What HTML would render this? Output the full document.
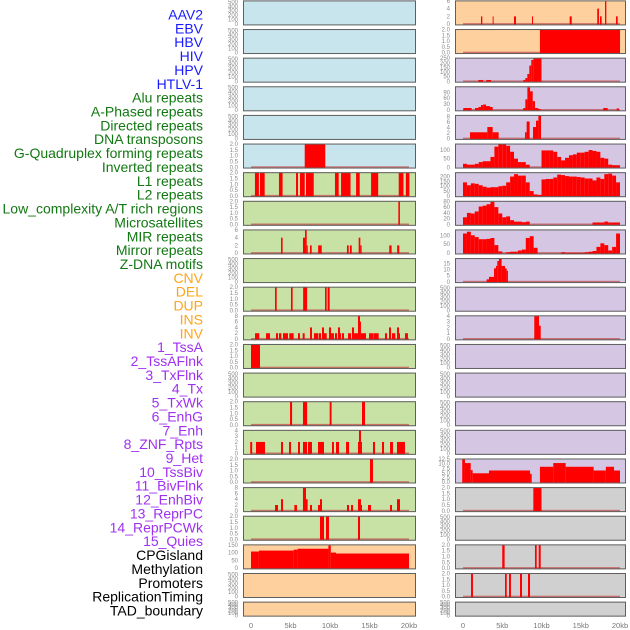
<!DOCTYPE html>
<html><head><meta charset="utf-8">
<style>
html,body{margin:0;padding:0;background:#fff;}
svg{display:block;font-family:"Liberation Sans",sans-serif;}
</style></head>
<body>
<svg id="chart" width="630" height="630" viewBox="0 0 630 630" xmlns="http://www.w3.org/2000/svg"></svg>
<script>
// ---------- data ----------
const trackLabels = ["AAV2","EBV","HBV","HIV","HPV","HTLV-1","Alu repeats","A-Phased repeats","Directed repeats","DNA transposons","G-Quadruplex forming repeats","Inverted repeats","L1 repeats","L2 repeats","Low_complexity A/T rich regions","Microsatellites","MIR repeats","Mirror repeats","Z-DNA motifs","CNV","DEL","DUP","INS","INV","1_TssA","2_TssAFlnk","3_TxFlnk","4_Tx","5_TxWk","6_EnhG","7_Enh","8_ZNF_Rpts","9_Het","10_TssBiv","11_BivFlnk","12_EnhBiv","13_ReprPC","14_ReprPCWk","15_Quies","CPGisland","Methylation","Promoters","ReplicationTiming","TAD_boundary"];
const labelGroups = ["virus","virus","virus","virus","virus","virus","rep","rep","rep","rep","rep","rep","rep","rep","rep","rep","rep","rep","rep","sv","sv","sv","sv","sv","chrom","chrom","chrom","chrom","chrom","chrom","chrom","chrom","chrom","chrom","chrom","chrom","chrom","chrom","chrom","other","other","other","other","other"];
const xTickKb = [0,5,10,15,20];
const xTickLabels = ["0","5kb","10kb","15kb","20kb"];
const emptyTicks = [0,100,200,300,400,500];
const ticks02 = [0,0.5,1.0,1.5,2.0];

// left column segments [startKb, endKb, value]
const L_gquad = [[6.8,9.4,2]];
const L_l1 = [[0.5,1.0,2],[1.14,1.73,2],[3.54,4.0,2],[5.7,5.95,2],[6.2,6.8,2],[6.96,7.94,2],[10.63,11.1,2],[11.4,12.6,2],[13.3,13.76,2],[15.2,16.1,2],[18.7,19.3,2],[19.6,20.05,2]];
const L_row7 = [[18.65,18.85,2]];
const L_row8 = [[3.8,4.0,4],[6.58,6.84,4],[6.84,7.05,6],[7.05,7.18,2],[7.47,7.68,2],[8.5,8.95,2],[12.15,12.37,2],[12.53,12.75,2],[13.63,13.84,4],[13.84,14.0,2],[17.5,17.8,2],[18.5,18.77,2]];
const L_row10 = [[3.04,3.25,2],[5.06,5.27,2],[6.6,7.1,2],[9.37,9.58,2],[9.7,9.96,2]];
const L_row11 = [[0.51,1.05,2],[1.9,2.4,2],[3.16,3.42,2],[3.54,3.84,2],[4.05,4.68,2],[4.85,5.4,2],[5.95,6.2,2],[6.54,6.79,2],[7.47,7.72,4],[7.97,8.48,2],[8.56,8.86,2],[8.99,9.24,4],[9.24,9.58,2],[9.87,10.13,4],[10.13,10.5,2],[10.63,10.89,2],[11.01,11.27,4],[11.27,11.39,2],[11.52,11.77,2],[12.28,12.66,2],[12.78,13.04,4],[13.04,13.54,2],[13.54,13.8,8],[13.8,13.92,6],[13.92,14.56,2],[14.94,15.49,2],[15.53,16.16,2],[16.96,17.22,2],[17.47,17.72,4],[17.85,18.27,2],[18.48,18.73,4],[18.73,18.86,2],[19.49,19.87,2]];
const L_row12 = [[0,1.14,2]];
const L_row14 = [[4.94,5.2,2],[6.58,7.1,2],[9.96,10.2,2],[14.05,14.43,2]];
const L_row15 = [[-0.1,0.15,2],[0.63,1.77,2],[3.8,4.05,2],[4.81,5.06,2],[5.95,6.2,2],[6.58,7.09,2],[7.22,7.72,2],[8.48,9.24,2],[10.25,10.5,2],[10.76,11.14,2],[12.03,12.41,2],[13.54,13.67,2],[13.67,13.92,4],[13.92,14.05,2],[15.44,15.7,2],[16.58,16.84,2],[17.6,17.97,2],[18.48,19.49,2]];
const L_row16 = [[15.06,15.44,2]];
const L_row17 = [[3.04,3.42,2],[3.8,4.05,4],[5.49,5.82,2],[6.58,6.96,8],[6.96,7.17,4],[7.47,7.72,2],[8.48,8.73,2],[8.73,8.99,4],[12.15,12.41,2],[12.66,12.91,2],[13.54,13.92,4],[13.92,14.05,2],[14.81,15.19,2],[17.6,17.85,2],[18.48,18.86,4]];
const L_row18 = [[8.73,9.24,2],[9.49,9.87,2],[13.54,13.8,2]];
const L_cpg = [[0,1.0,107],[1.0,5.4,113],[5.4,5.9,119],[5.9,9.8,125],[9.8,10.1,146],[10.1,10.76,100],[10.76,20.0,94]];

// right column
const R_aav2 = [[2.29,2.46,2],[3.78,3.9,2],[6.5,6.75,2],[8.79,8.92,2],[13.59,13.85,2],[17.1,17.32,4],[17.45,17.66,2],[18.09,18.26,6],[19.49,19.7,2]];
const R_ebv = [[9.8,20.0,2]];
const R_hiv = [[1.95,2.55,15],[2.97,3.57,15],[7.68,7.94,15],[7.94,8.2,35],[8.2,8.45,80],[8.45,8.7,170],[8.7,8.96,230],[8.96,10.0,250]];
const R_row3 = [[0.04,1.1,10],[1.53,1.95,10],[1.95,2.29,15],[2.29,2.59,25],[2.59,2.93,28],[2.93,3.44,20],[3.44,3.78,15],[7.68,7.94,10],[7.94,8.2,54],[8.2,8.54,115],[8.54,8.88,95],[8.88,9.17,45],[9.17,9.6,10],[9.6,9.9,5],[17.87,18.43,10],[19.58,19.87,8]];
const R_row4 = [[0.89,3.1,2.3],[3.1,3.78,4.2],[3.78,4.54,2.3],[7.9,8.11,2.3],[8.11,8.49,6.2],[8.92,9.3,4.2],[9.3,9.6,6.5],[9.6,9.94,8.3]];
const R_row5 = [20,15,15,20,30,35,35,60,120,135,135,125,90,50,30,30,15,0,0,0,98,98,98,90,60,40,55,70,75,85,85,90,100,95,90,55,50,15,12,12];
const R_row6 = [140,110,130,125,110,95,85,90,90,100,105,140,200,225,210,210,140,50,15,10,170,175,175,190,220,215,205,200,200,195,190,180,180,160,190,175,225,230,210,140];
const R_row7 = [25,40,38,45,62,65,70,78,60,38,25,28,15,10,10,8,10,0,0,0,0,0,0,0,0,0,0,0,0,0,0,0,0,7,7,7,10,7,7,7];
const R_row8 = [110,120,100,90,78,78,80,85,45,10,0,5,8,8,15,20,85,95,30,0,0,0,0,0,0,5,2,2,2,2,2,5,8,12,35,55,45,15,35,110];
const R_row9 = [[3.01,3.31,2],[3.31,3.95,4],[3.95,4.2,11],[4.2,4.37,13],[4.37,4.58,17],[4.58,4.92,19],[4.92,5.35,13],[5.35,5.56,11],[5.56,5.73,9]];
const R_row11 = [[9.08,9.68,4],[9.68,9.9,2.3]];
const R_row16 = [[-0.1,0.25,12.3],[0.25,0.98,10.3],[0.98,1.23,6.5],[1.23,3.31,4.8],[3.31,8.54,6.3],[8.54,8.75,4.5],[9.8,11.5,8.3],[11.5,13.08,10.3],[13.08,16.64,8.3],[16.64,18.2,6.3],[18.2,19.24,8.3],[19.24,20.0,6.3]];
const R_row17 = [[8.96,10.0,2]];
const R_row19 = [[5.0,5.3,2],[9.17,9.39,2],[9.64,9.9,2]];
const R_row20 = [[1.02,1.27,2],[5.35,5.57,2],[5.86,6.11,2],[7.26,7.52,2],[8.28,8.54,2]];

// ---------- layout ----------
const svg = document.getElementById('chart');
const NS = 'http://www.w3.org/2000/svg';
const groupColors = {virus:'#1a1aff', rep:'#127812', sv:'#ffa51a', chrom:'#a030f0', other:'#000000'};
const bgColors = {blue:'#c8e4ec', orange:'#fed09e', lav:'#d5c7e3', green:'#c8e1a5', grey:'#d0d0d0'};
const cols = [
  {left:243, width:173, x0:251, pxPerKb:7.9},
  {left:455, width:171, x0:463, pxPerKb:7.85}
];
function rowTop(i){ return 0.4 + i*28.63; }
function rowH(i){ return i===21 ? 15 : 25; }
function xScale(c, kb){ return cols[c].x0 + kb*cols[c].pxPerKb; }
function binsToSegs(arr){ return arr.map((v,i)=>[i*0.5,(i+1)*0.5,v]); }
function mk(tag, attrs){ const e=document.createElementNS(NS,tag); for(const k in attrs) e.setAttribute(k,attrs[k]); svg.appendChild(e); return e; }

const leftTracks = [
  {bg:'blue'},{bg:'blue'},{bg:'blue'},{bg:'blue'},{bg:'blue'},
  {bg:'blue', segs:L_gquad, ymax:2, ticks:ticks02},
  {bg:'green', segs:L_l1, ymax:2, ticks:ticks02},
  {bg:'green', segs:L_row7, ymax:2, ticks:ticks02},
  {bg:'green', segs:L_row8, ymax:6, ticks:[0,2,4,6]},
  {bg:'green'},
  {bg:'green', segs:L_row10, ymax:2, ticks:ticks02},
  {bg:'green', segs:L_row11, ymax:8, ticks:[0,2,4,6,8]},
  {bg:'green', segs:L_row12, ymax:2, ticks:ticks02},
  {bg:'green'},
  {bg:'green', segs:L_row14, ymax:2, ticks:ticks02},
  {bg:'green', segs:L_row15, ymax:4, ticks:[0,1,2,3,4]},
  {bg:'green', segs:L_row16, ymax:2, ticks:ticks02},
  {bg:'green', segs:L_row17, ymax:8, ticks:[0,2,4,6,8]},
  {bg:'green', segs:L_row18, ymax:2, ticks:ticks02},
  {bg:'orange', segs:L_cpg, ymax:150, ticks:[0,50,100,150]},
  {bg:'orange'},{bg:'orange'}
];
const rightTracks = [
  {bg:'orange', segs:R_aav2, ymax:6, ticks:[0,2,4,6]},
  {bg:'orange', segs:R_ebv, ymax:2, ticks:ticks02},
  {bg:'lav', segs:R_hiv, ymax:250, ticks:[0,50,100,150,200,250]},
  {bg:'lav', segs:R_row3, ymax:118, ticks:[0,30,60,90]},
  {bg:'lav', segs:R_row4, ymax:8.4, ticks:[0,2,4,6,8]},
  {bg:'lav', segs:binsToSegs(R_row5), ymax:135, ticks:[0,50,100]},
  {bg:'lav', segs:binsToSegs(R_row6), ymax:240, ticks:[0,50,100,150,200]},
  {bg:'lav', segs:binsToSegs(R_row7), ymax:80, ticks:[0,20,40,60,80]},
  {bg:'lav', segs:binsToSegs(R_row8), ymax:130, ticks:[0,50,100]},
  {bg:'lav', segs:R_row9, ymax:19, ticks:[0,5,10,15]},
  {bg:'lav'},
  {bg:'lav', segs:R_row11, ymax:4, ticks:[0,1,2,3,4]},
  {bg:'lav'},{bg:'lav'},{bg:'lav'},{bg:'lav'},
  {bg:'lav', segs:R_row16, ymax:12.5, ticks:[0,2.5,5,7.5,10,12.5], nobase:true},
  {bg:'grey', segs:R_row17, ymax:2, ticks:ticks02},
  {bg:'grey'},
  {bg:'grey', segs:R_row19, ymax:2, ticks:ticks02},
  {bg:'grey', segs:R_row20, ymax:2, ticks:ticks02},
  {bg:'grey'}
];

// labels
trackLabels.forEach((t,i)=>{
  const el = mk('text',{x:203, y:(19.5+i*13.86).toFixed(1), 'text-anchor':'end', 'font-size':'14', fill:groupColors[labelGroups[i]]});
  el.textContent = t;
  
  
});

function fmtTick(v, ticks){
  const dec = ticks.some(t=>t%1!==0);
  if(!dec) return String(v);
  return v.toFixed(1);
}

function drawPanel(c, i, tr){
  const top = rowTop(i), h = rowH(i);
  const L = cols[c].left, W = cols[c].width;
  const ymax = tr.ymax || 520;
  const ticks = tr.ticks || emptyTicks;
  const y0 = top + h - 1.3, span = h - 1.8;
  const yS = v => y0 - v/ymax*span;
  const bg = mk('rect',{x:L, y:top, width:W, height:h, fill:bgColors[tr.bg]});
  
  
  ticks.forEach(v=>{
    const t = mk('text',{x:L-5, y:(yS(v)+2).toFixed(1), 'text-anchor':'end', 'font-size':'6', fill:'#8a8a8a'});
    t.textContent = tr.ticks ? fmtTick(v, ticks) : String(v);
    
    
  });
  if(tr.segs){
    if(!tr.nobase){
      const b = mk('rect',{x:xScale(c,0), y:(y0-1).toFixed(1), width:(xScale(c,20)-xScale(c,0)).toFixed(1), height:1.6, fill:'#c65050', opacity:0.75});
      
      
    }
    tr.segs.forEach(s=>{
      if(s[2]<=0) return;
      const x1 = xScale(c,s[0]), x2 = xScale(c,s[1]);
      const yt = Math.max(top, yS(s[2]));
      const r = mk('rect',{x:x1.toFixed(2), y:yt.toFixed(2), width:Math.max(0.8,x2-x1).toFixed(2), height:(y0-yt+0.3).toFixed(2), fill:'#ff0000'});
      
      
    });
  }
  const bd = mk('rect',{x:L+0.5, y:top+0.5, width:W-1, height:h-1, fill:'none', stroke:'#5f5f5f', 'stroke-width':1});
  
  
}
leftTracks.forEach((tr,i)=>drawPanel(0,i,tr));
rightTracks.forEach((tr,i)=>drawPanel(1,i,tr));

// x-axis
[0,1].forEach(c=>{
  xTickKb.forEach((kb,j)=>{
    const t = mk('text',{x:xScale(c,kb).toFixed(1), y:628, 'text-anchor':'middle', 'font-size':'7.5', fill:'#777'});
    t.textContent = xTickLabels[j];
    
    
  });
});
</script>
</body></html>
